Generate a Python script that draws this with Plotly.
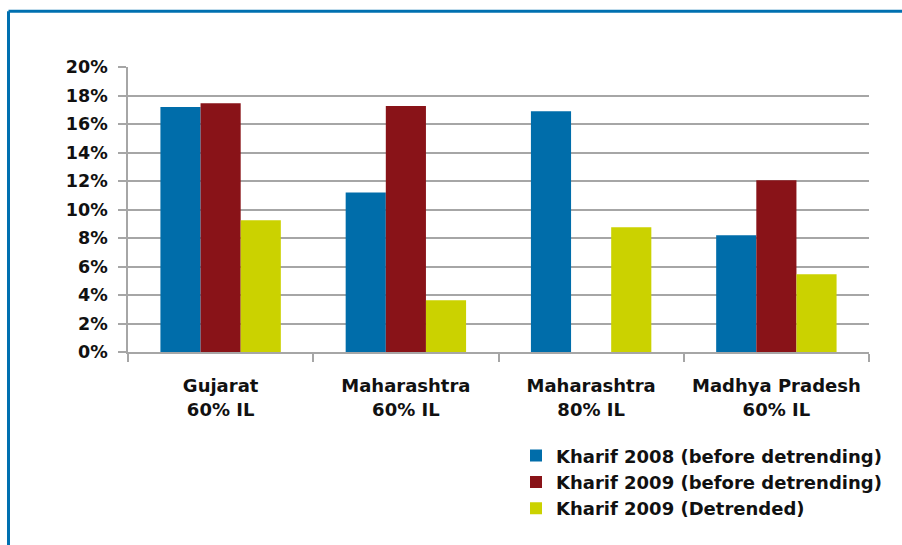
import plotly.graph_objects as go

categories = ["Gujarat<br>60% IL", "Maharashtra<br>60% IL", "Maharashtra<br>80% IL", "Madhya Pradesh<br>60% IL"]
kharif_2008 = [0.1719, 0.1120, 0.1689, 0.0819]
kharif_2009 = [0.1745, 0.1726, None, 0.1205]
kharif_2009_detrended = [0.0924, 0.0363, 0.0875, 0.0545]
series_names = ["Kharif 2008 (before detrending)", "Kharif 2009 (before detrending)", "Kharif 2009 (Detrended)"]
colors = ["#006DAA", "#891318", "#CBD200"]

W, H = 902, 545
L, R, T, B = 128, 869, 66.7, 351.7
pw, ph = R - L, B - T

def px(x):
    return (x - L) / pw

def py(y):
    return (B - y) / ph

fig = go.Figure()
for name, vals, c in zip(series_names, [kharif_2008, kharif_2009, kharif_2009_detrended], colors):
    fig.add_trace(go.Bar(x=categories, y=vals, name=name, marker=dict(color=c, line=dict(width=0))))

font_family = "DejaVu Sans, sans-serif"
tf18 = dict(family=font_family, size=18, color="#111", weight="bold")
tfy = dict(family=font_family, size=17.5, color="#111", weight="bold")
fig.update_layout(
    width=W, height=H,
    margin=dict(l=L, r=W - R, t=T, b=H - B, pad=0),
    paper_bgcolor="white", plot_bgcolor="white",
    barmode="group", bargap=0.35, bargroupgap=0,
    font=tf18,
    showlegend=True,
    legend=dict(x=px(516), y=py(437), xanchor="left", yanchor="top",
                font=tf18, tracegroupgap=0, itemwidth=30, bgcolor="rgba(0,0,0,0)"),
    xaxis=dict(type="category", tickson="boundaries", ticks="outside", ticklen=8,
               tickcolor="#a6a6a6", tickwidth=1.5, showline=True, linecolor="#a6a6a6", linewidth=1.5,
               showgrid=False, ticklabelstandoff=17, tickfont=tf18),
    yaxis=dict(range=[0, 0.2], dtick=0.02, tickformat=".0%", ticks="outside", ticklen=8,
               tickcolor="#a6a6a6", tickwidth=1.5, showline=True, linecolor="#a6a6a6", linewidth=1.5,
               showgrid=True, gridcolor="#a6a6a6", gridwidth=1.5, zeroline=False,
               ticklabelstandoff=7, tickfont=tfy),
)

# frame border (blue)
fig.add_shape(type="line", xref="paper", yref="paper", x0=px(8.5), x1=px(910), y0=py(11), y1=py(11),
              line=dict(color="#0070B0", width=3))
fig.add_shape(type="line", xref="paper", yref="paper", x0=px(8.5), x1=px(8.5), y0=py(11), y1=py(560),
              line=dict(color="#0070B0", width=3))

fig.write_html("out.html", config={"displayModeBar": False},
               post_script="document.body.style.margin='0';document.body.style.overflow='hidden';")
